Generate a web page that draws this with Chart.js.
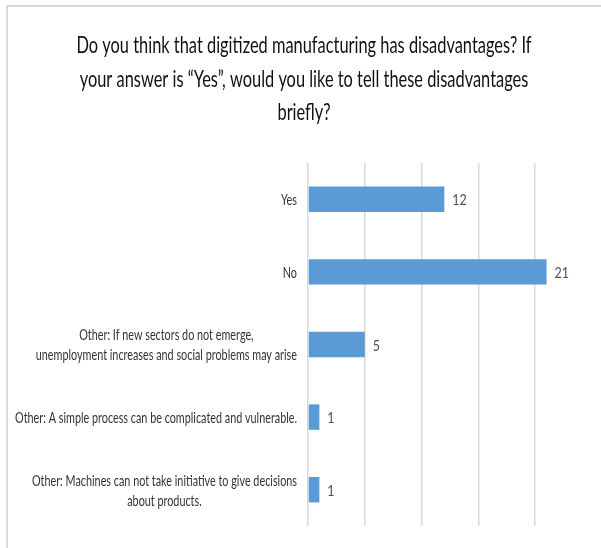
<!DOCTYPE html>
<html>
<head>
<meta charset="utf-8">
<script src="https://cdn.jsdelivr.net/npm/chart.js@4/dist/chart.umd.min.js"></script>
<style>
html,body{margin:0;padding:0;background:#fff;}
#wrap{position:relative;width:601px;height:548px;}
</style>
</head>
<body>
<div id="wrap"><canvas id="c" width="601" height="548"></canvas></div>
<script>
const titleLines = [
  "Do you think that digitized manufacturing has disadvantages? If",
  "your answer is \u201cYes\u201d, would you like to tell these disadvantages",
  "briefly?"
];
const categories = [
  ["Yes"],
  ["No"],
  ["Other: If new sectors do not emerge,", "unemployment increases and social problems may arise"],
  ["Other: A simple process can be complicated and vulnerable."],
  ["Other: Machines can not take initiative to give decisions", "about products."]
];
const counts = [12, 21, 5, 1, 1];
const axisTicks = [0, 5, 10, 15, 20];

const FONT = "Lato, 'Open Sans', 'Noto Sans', sans-serif";

// draw text horizontally condensed (Calibri-like narrow look)
function condensedText(ctx, text, x, y, sx, align) {
  const w = ctx.measureText(text).width * sx;
  let left = x;
  if (align === 'center') left = x - w / 2;
  else if (align === 'right') left = x - w;
  ctx.save();
  ctx.translate(left, y);
  ctx.scale(sx, 1);
  ctx.textAlign = 'left';
  ctx.fillText(text, 0, 0);
  ctx.restore();
}

const frame = {
  id: 'frame',
  beforeDraw(chart) {
    const ctx = chart.ctx;
    ctx.save();
    ctx.fillStyle = '#ffffff';
    ctx.fillRect(0, 0, chart.width, chart.height);
    ctx.strokeStyle = '#d9d9d9';
    ctx.lineWidth = 2;
    ctx.beginPath();
    ctx.moveTo(7, chart.height);
    ctx.lineTo(7, 6);
    ctx.lineTo(chart.width, 6);
    ctx.stroke();
    ctx.restore();
  }
};

const titleText = {
  id: 'titleText',
  afterDraw(chart) {
    const ctx = chart.ctx;
    ctx.save();
    ctx.font = "23px " + FONT;
    ctx.fillStyle = '#111111';
    ctx.textBaseline = 'middle';
    const sx = 455 / ctx.measureText(titleLines[0]).width;
    const cx = 304;
    const ys = [46, 79.5, 113];
    titleLines.forEach((l, k) => condensedText(ctx, l, cx, ys[k], sx, 'center'));
    ctx.restore();
  }
};

const catLabels = {
  id: 'catLabels',
  afterDraw(chart) {
    const ctx = chart.ctx;
    const ys = chart.scales.y;
    ctx.save();
    ctx.font = "15px " + FONT;
    ctx.fillStyle = '#333333';
    ctx.textBaseline = 'middle';
    const sx = 282 / ctx.measureText(categories[3][0]).width;
    const right = chart.chartArea.left - 11;
    const lh = 20;
    categories.forEach((lines, i) => {
      const y = ys.getPixelForValue(i);
      const w = Math.max(...lines.map(l => ctx.measureText(l).width)) * sx;
      const cx = right - w / 2;
      const y0 = y - (lines.length - 1) * lh / 2 + 1;
      lines.forEach((l, k) => condensedText(ctx, l, cx, y0 + k * lh, sx, 'center'));
    });
    ctx.restore();
  }
};

const valueLabels = {
  id: 'valueLabels',
  afterDatasetsDraw(chart) {
    const ctx = chart.ctx;
    const meta = chart.getDatasetMeta(0);
    ctx.save();
    ctx.font = "16px " + FONT;
    ctx.fillStyle = '#505050';
    ctx.textBaseline = 'middle';
    meta.data.forEach((bar, i) => {
      condensedText(ctx, String(counts[i]), bar.x + 8, bar.y + 1, 0.78, 'left');
    });
    ctx.restore();
  }
};

new Chart(document.getElementById('c'), {
  type: 'bar',
  data: {
    labels: categories,
    datasets: [{
      data: counts,
      backgroundColor: '#5b9bd5',
      borderWidth: 0,
      categoryPercentage: 1,
      barPercentage: 0.35
    }]
  },
  options: {
    indexAxis: 'y',
    responsive: false,
    animation: false,
    layout: { padding: { left: 0, right: 9, top: 163, bottom: 22 } },
    plugins: {
      legend: { display: false },
      tooltip: { enabled: false },
      title: { display: false }
    },
    scales: {
      x: {
        min: 0,
        max: 25,
        afterBuildTicks(scale) { scale.ticks = axisTicks.concat([25]).map(v => ({ value: v })); },
        ticks: { display: false },
        border: { display: false },
        grid: {
          drawTicks: false,
          lineWidth: 1.5,
          color: (c) => (c.tick && c.tick.value < 25) ? '#d9d9d9' : 'rgba(0,0,0,0)'
        }
      },
      y: {
        ticks: { display: false },
        grid: { display: false },
        border: { display: false },
        afterFit(scale) { scale.width = 308; }
      }
    }
  },
  plugins: [frame, titleText, catLabels, valueLabels]
});
</script>
</body>
</html>
